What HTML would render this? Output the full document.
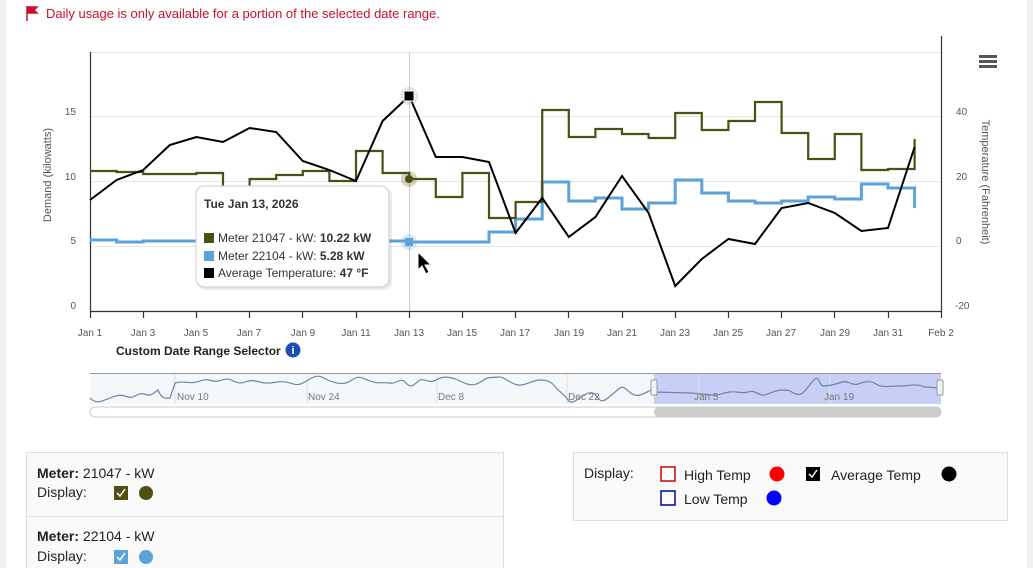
<!DOCTYPE html>
<html><head><meta charset="utf-8"><style>
html,body{margin:0;width:1033px;height:568px;overflow:hidden}
body{background:#fff;font-family:"Liberation Sans",sans-serif;position:relative}
.abs{position:absolute}
.panel{position:absolute;background:#fafafa;border:1px solid #ddd;box-sizing:border-box}
</style></head><body>
<div class="abs" style="left:0;top:0;width:6px;height:568px;background:#f0f0f0"></div>
<div class="abs" style="left:1027px;top:0;width:6px;height:568px;background:#f0f0f0"></div>
<svg class="abs" style="left:0;top:0" width="1033" height="568">
<path d="M27 6 V21 M27 7 H37 L34 10 L37 13 H27 Z" fill="#c8102e" stroke="#c8102e" stroke-width="1.5"/>
<text x="46" y="18" font-size="13" fill="#c8102e" font-family="Liberation Sans">Daily usage is only available for a portion of the selected date range.</text>
<g stroke="#e6e6e6" stroke-width="1">
<line x1="90" y1="52.5" x2="941" y2="52.5"/><line x1="90" y1="116.5" x2="941" y2="116.5"/><line x1="90" y1="181.5" x2="941" y2="181.5"/><line x1="90" y1="246.5" x2="941" y2="246.5"/>
</g>
<line x1="409.5" y1="52" x2="409.5" y2="311" stroke="#ccc"/>
<g stroke="#333" stroke-width="1.2" fill="none">
<line x1="90.5" y1="52" x2="90.5" y2="311"/><line x1="941.5" y1="36" x2="941.5" y2="311"/>
<line x1="90" y1="311.5" x2="941" y2="311.5"/>
<path d="M90.5 311V318M143.5 311V318M196.5 311V318M249.5 311V318M302.5 311V318M356.5 311V318M409.5 311V318M462.5 311V318M515.5 311V318M568.5 311V318M622.5 311V318M675.5 311V318M728.5 311V318M781.5 311V318M834.5 311V318M888.5 311V318M941.5 311V318"/>
</g>
<g font-size="10" fill="#555" text-anchor="middle">
<text x="90" y="336">Jan 1</text><text x="143" y="336">Jan 3</text><text x="196" y="336">Jan 5</text><text x="249" y="336">Jan 7</text><text x="303" y="336">Jan 9</text><text x="356" y="336">Jan 11</text><text x="409" y="336">Jan 13</text><text x="462" y="336">Jan 15</text><text x="515" y="336">Jan 17</text><text x="569" y="336">Jan 19</text><text x="622" y="336">Jan 21</text><text x="675" y="336">Jan 23</text><text x="728" y="336">Jan 25</text><text x="781" y="336">Jan 27</text><text x="835" y="336">Jan 29</text><text x="888" y="336">Jan 31</text><text x="941" y="336">Feb 2</text>
</g>
<g font-size="10" fill="#555" text-anchor="end">
<text x="76" y="115">15</text><text x="76" y="180">10</text><text x="76" y="244">5</text><text x="76" y="309">0</text>
</g>
<g font-size="10" fill="#555" text-anchor="start">
<text x="956" y="115">40</text><text x="956" y="180">20</text><text x="956" y="244">0</text><text x="955" y="309">-20</text>
</g>
<text transform="translate(51,175) rotate(-90)" font-size="11" fill="#555" text-anchor="middle">Demand (kilowatts)</text>
<text transform="translate(982,182) rotate(90)" font-size="11" fill="#555" text-anchor="middle">Temperature (Fahrenheit)</text>
<g fill="#555"><rect x="979" y="55" width="18" height="3"/><rect x="979" y="60" width="18" height="3"/><rect x="979" y="65" width="18" height="3"/></g>
<path fill="none" stroke="#5ba3d9" stroke-width="3" d="M90,240 H116.6 V242 H143.2 V241 H409.2 V242 H489 V232 H515.6 V219 H542.2 V182 H568.8 V201 H595.4 V198 H622 V209 H648.6 V203 H675.2 V180 H701.8 V193 H728.4 V201 H755 V203 H781.6 V201 H808.2 V197 H834.8 V199 H861.4 V184 H888 V188 H914.6 V208"/>
<path fill="none" stroke="#4f4f14" stroke-width="2.2" d="M90,171 H116.6 V172 H143.2 V174 H196.4 V173 H223 V195 H249.6 V179 H276.2 V175 H302.8 V171 H329.4 V181 H356 V151 H382.6 V173 H409.2 V179 H435.8 V197 H462.4 V173 H489 V218 H515.6 V202 H542.2 V110 H568.8 V137 H595.4 V129 H622 V134 H648.6 V138 H675.2 V113 H701.8 V130 H728.4 V121 H755 V102 H781.6 V133 H808.2 V159 H834.8 V134 H861.4 V170 H888 V169 H914.6 V139"/>
<polyline fill="none" stroke="#000" stroke-width="2" points="90,200 116.6,180 143.2,170 169.8,145 196.4,137 223,142 249.6,128 276.2,132 302.8,161 329.4,170 356,181 382.6,121 409.2,96 435.8,157 462.4,157 489,162 515.6,233 542.2,198 568.8,237 595.4,217 622,176 648.6,213 675.2,286 701.8,259 728.4,239 755,244 781.6,208 808.2,203 834.8,213 861.4,231 888,228 914.6,147"/>
<circle cx="409" cy="179" r="8" fill="#4f4f14" opacity="0.25"/><circle cx="409" cy="179" r="4" fill="#4f4f14"/>
<circle cx="409" cy="242" r="8" fill="#5ba3d9" opacity="0.25"/><rect x="405" y="238" width="8" height="8" fill="#5ba3d9"/>
<circle cx="409" cy="96" r="9" fill="#999" opacity="0.25"/><rect x="404" y="91" width="10" height="10" fill="#000" stroke="#fff"/>
<path d="M418 252 L418 270 L422 266 L426 274 L429 272 L425 265 L431 265 Z" fill="#000" stroke="#fff" stroke-width="1"/>
<rect x="198" y="188" width="194" height="102" rx="8" fill="#000" opacity="0.08"/>
<rect x="196" y="186" width="193" height="101" rx="8" fill="#fff" stroke="#ccc"/>
<text x="204" y="208" font-size="12" font-weight="bold" fill="#333">Tue Jan 13, 2026</text>
<rect x="204" y="233" width="10" height="10" fill="#4f4f14"/><text x="218" y="242" font-size="12" fill="#333">Meter 21047 - kW: <tspan font-weight="bold">10.22 kW</tspan></text>
<rect x="204" y="251" width="10" height="10" fill="#5ba3d9"/><text x="218" y="260" font-size="12" fill="#333">Meter 22104 - kW: <tspan font-weight="bold">5.28 kW</tspan></text>
<rect x="204" y="268" width="10" height="10" fill="#000"/><text x="218" y="277" font-size="12" fill="#333">Average Temperature: <tspan font-weight="bold">47 °F</tspan></text>
<text x="116" y="355" font-size="12" font-weight="bold" fill="#222">Custom Date Range Selector</text>
<circle cx="293" cy="350" r="7.5" fill="#1a4fb5"/><text x="293" y="354" font-size="11" font-weight="bold" fill="#fff" text-anchor="middle">i</text>
<rect x="90" y="373" width="564" height="31" fill="#f5f8fb"/>
<rect x="654" y="373" width="287" height="31" fill="#c8cff6"/>
<line x1="90" y1="373.5" x2="941" y2="373.5" stroke="#999"/>
<g stroke="#e0e0e0"><line x1="175" y1="374" x2="175" y2="404"/><line x1="307" y1="374" x2="307" y2="404"/><line x1="437" y1="374" x2="437" y2="404"/><line x1="567" y1="374" x2="567" y2="404"/><line x1="699" y1="374" x2="699" y2="404"/><line x1="830" y1="374" x2="830" y2="404"/></g>
<g font-size="10" fill="#777"><text x="177" y="400">Nov 10</text><text x="308" y="400">Nov 24</text><text x="438" y="400">Dec 8</text><text x="568" y="400">Dec 22</text><text x="694" y="400">Jan 5</text><text x="824" y="400">Jan 19</text></g>
<path fill="none" stroke="#6a86a8" stroke-width="1.2" d="M90,398 C96,404 100,402 110,398 S122,395 128,397 S138,392 144,394 S150,396 158,390 C162,400 166,398 170,398 L175,383 C185,380 190,385 200,381 S212,384 222,380 S235,386 245,382 S260,384 268,383 C275,383 282,380 290,383 S300,385 310,379 S322,378 330,381 S345,385 352,380 S362,378 370,381 S380,382 390,383 C396,385 400,376 406,383 S416,382 420,380 S430,384 436,380 S450,376 460,381 S475,386 482,381 S492,378 498,377 S510,384 518,385 S532,380 540,380 S552,382 556,388 C560,392 564,394 568,400 S578,398 586,394 S596,396 600,400 S614,392 620,388 S630,398 640,395 S650,388 654,392 L690,393 C700,394 706,394 712,395 S722,393 730,392 S740,394 748,392 S756,394 762,395 S772,390 782,390 S790,392 796,394 S804,392 812,382 S818,386 824,386 S836,384 842,382 S852,386 858,384 S870,380 876,384 S890,386 900,386 S915,383 925,387 L941,388"/>
<rect x="651" y="380" width="6" height="15" rx="1" fill="#f2f2f2" stroke="#999"/>
<rect x="937" y="380" width="6" height="15" rx="1" fill="#f2f2f2" stroke="#999"/>
<rect x="90" y="407" width="851" height="10" rx="5" fill="#fff" stroke="#ccc"/>
<rect x="654" y="407" width="287" height="10" rx="5" fill="#cbcbcb"/>
</svg>
<div class="panel" style="left:26px;top:452px;width:478px;height:116px;border-bottom:none"></div>
<div class="abs" style="left:26px;top:516px;width:478px;height:1px;background:#ddd"></div>
<div class="panel" style="left:573px;top:452px;width:435px;height:69px"></div>
<svg class="abs" style="left:0;top:0" width="1033" height="568">
<g font-family="Liberation Sans" font-size="14" fill="#222">
<text x="37" y="478"><tspan font-weight="bold">Meter:</tspan> 21047 - kW</text>
<text x="37" y="497">Display:</text>
<text x="37" y="541"><tspan font-weight="bold">Meter:</tspan> 22104 - kW</text>
<text x="37" y="561">Display:</text>
<text x="584" y="478">Display:</text>
<text x="684" y="480">High Temp</text>
<text x="684" y="504">Low Temp</text>
<text x="831" y="480">Average Temp</text>
</g>
<rect x="114" y="486" width="14" height="14" fill="#4f4f14"/><path d="M117 493 l3 3 l5 -7" stroke="#fff" stroke-width="1.5" fill="none"/>
<circle cx="146" cy="493" r="7" fill="#4f4f14"/>
<rect x="114" y="550" width="14" height="14" fill="#5ba3d9"/><path d="M117 557 l3 3 l5 -7" stroke="#fff" stroke-width="1.5" fill="none"/>
<circle cx="146" cy="557" r="7" fill="#5ba3d9"/>
<rect x="661" y="467" width="14" height="14" fill="#fff" stroke="#c00" stroke-width="1.5"/>
<circle cx="777" cy="474" r="7.5" fill="#f00"/>
<rect x="806" y="467" width="14" height="14" fill="#000"/><path d="M809 474 l3 3 l5 -7" stroke="#fff" stroke-width="1.5" fill="none"/>
<circle cx="949" cy="474" r="7.5" fill="#000"/>
<rect x="661" y="491" width="14" height="14" fill="#fff" stroke="#00a" stroke-width="1.5"/>
<circle cx="774" cy="498" r="7.5" fill="#00f"/>
</svg>
</body></html>
